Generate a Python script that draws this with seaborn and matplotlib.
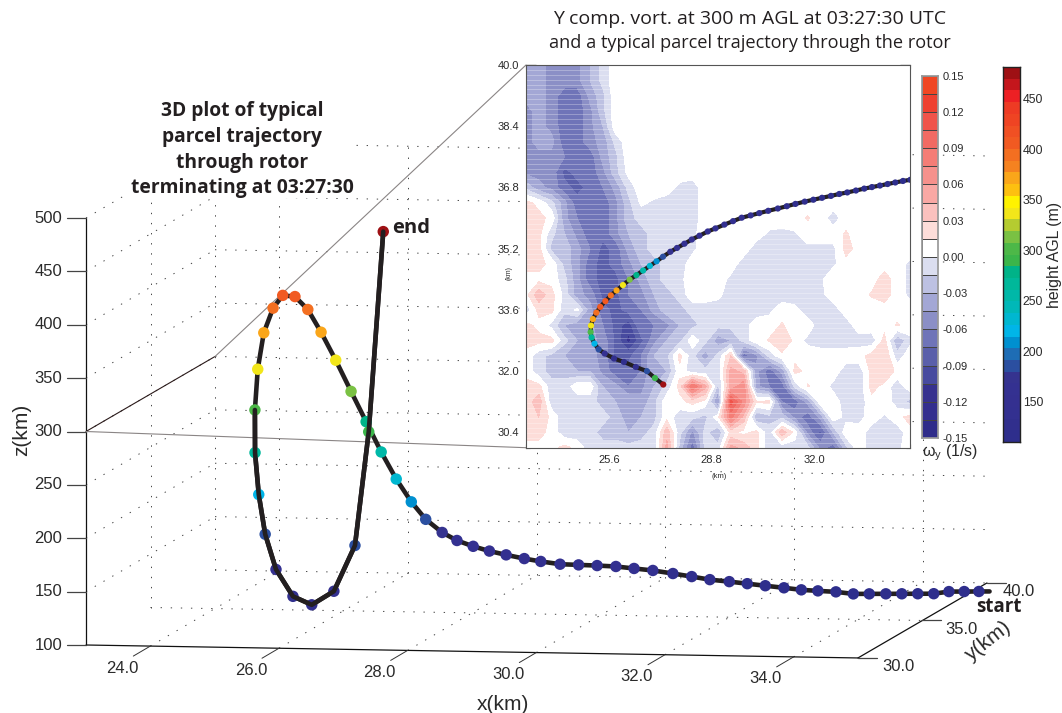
import matplotlib

matplotlib.use("Agg")
import matplotlib.pyplot as plt
import numpy as np
import pandas as pd
import seaborn as sns
from matplotlib.colors import BoundaryNorm, ListedColormap
from matplotlib.patches import Rectangle
from matplotlib.ticker import FixedLocator, MultipleLocator

# parcel trajectory, start to end
traj_x = [35.46, 35.24, 35.01, 34.78, 34.54, 34.30, 34.06, 33.81, 33.57, 33.31,
          33.04, 32.79, 32.53, 32.25, 31.98, 31.71, 31.42, 31.15, 30.87, 30.57,
          30.29, 30.02, 29.74, 29.47, 29.20, 28.92, 28.68, 28.42, 28.18, 27.95,
          27.72, 27.51, 27.28, 27.08, 26.87, 26.66, 26.45, 26.24, 26.03, 25.83,
          25.65, 25.48, 25.32, 25.20, 25.09, 25.03, 25.02, 25.05, 25.14, 25.27,
          25.46, 25.75, 26.06, 26.43, 26.78, 27.03, 27.29]
traj_y = [37.08, 37.04, 37.00, 36.97, 36.93, 36.89, 36.85, 36.81, 36.77, 36.72,
          36.67, 36.63, 36.58, 36.53, 36.48, 36.43, 36.37, 36.31, 36.25, 36.19,
          36.13, 36.07, 36.01, 35.92, 35.83, 35.73, 35.65, 35.54, 35.44, 35.33,
          35.22, 35.12, 34.99, 34.87, 34.75, 34.63, 34.51, 34.39, 34.25, 34.11,
          33.98, 33.83, 33.68, 33.53, 33.36, 33.19, 33.02, 32.88, 32.72, 32.57,
          32.46, 32.33, 32.24, 32.11, 32.00, 31.82, 31.65]
traj_z = [113, 113, 113, 111, 111, 111, 111, 111, 111, 113,
          114, 115, 117, 119, 121, 123, 125, 128, 131, 134,
          136, 138, 139, 140, 141, 144, 147, 151, 155, 160,
          166, 174, 187, 204, 226, 252, 281, 310, 340, 367,
          389, 402, 404, 393, 371, 338, 301, 262, 224, 188,
          156, 132, 125, 139, 183, 291, 480]
lead_x, lead_y, lead_z = 35.62, 37.11, 113

# y-vorticity at 300 m, in 0.01 1/s; rows from y=40 km down to y=30 km, columns x=23..35 km
vort = np.array([
    [-4, -4, -5, -5, -5, -3, -1] + [1] * 24,
    [-4, -4, -5, -5, -5, -3, -1] + [1] * 24,
    [-4, -4, -5, -7, -7, -4, -2] + [1] * 24,
    [-5, -4, -5, -7, -7, -5, -2] + [1] * 24,
    [-5, -4, -5, -7, -7, -5, -3] + [1] * 24,
    [-5, -4, -4, -7, -7, -5, -4, -1] + [1] * 23,
    [-5, -5, -5, -6, -7, -7, -4, -2] + [1] * 23,
    [-5, -5, -5, -8, -7, -7, -5, -2, 0.5] + [1] * 22,
    [-2, -4, -5, -7, -8, -7, -6, -4, -1, 1, 1, 1, -0.5, -1, 1] + [1] * 16,
    [2, 1, -1, -4, -7, -7, -7, -5, -2, 0.3, -0.3, -1, -1, -1, 1] + [1] * 16,
    [2, 2, 1, -4, -6, -7, -7, -5, -2, -1, -1, -1, -1, -1, 1] + [1] * 7 + [1.6, 1, -1] + [1] * 6,
    [2, 2, -1, -3, -5, -7, -7, -5, -3, -2, -1, -1, -1, -0.5, 1] + [1] * 4 + [-0.3, -0.5, -0.2, 1, 1, 1, 1.6] + [1] * 5,
    [2, 2, -2, -2, -4, -6, -8, -7, -4, -2, -1, -1, -1, -0.5, 1, 1, 1, 1, -1, -1, -1, -1, -0.5, -0.5, -0.5, 2] + [1] * 5,
    [2, 2, 1, -2, -4, -7, -8, -7, -5, -3, -2, -1, -1, 1, 1, 1, 1, -1, -1, -1, -1, -1, -1, -1, -0.3, 1, 1, 1, 1, 1, -0.5],
    [1, 1, 1, -1, -4, -7, -8, -8, -6, -4, -2, -1, -0.5, 1, 1, 1, -0.5, -1, -1, -1, -1, -1, -1, -0.3, 1, 1, 1, 1, 2, 1, -0.5],
    [1, 4, 2, -0.5, -4, -5, -8, -8, -6, -5, -3, -2, -1, 1, 1, 0.5, -1, -1, -1, -1, -1, -1, -1, -0.5, 1, 1, 1, 1.6, 2, 1, -0.5],
    [-1, 2, 2, -1, 0.3, -4, -7, -8, -7, -6, -4, -2, -2, -1, -1, -1, -1, -1, -1, -0.5, 1, 0.5, -1, -1, -1, 1, 1, 1, 1, 1, 1],
    [2, 1, -0.5, -3, -4, -4, -6, -8, -10, -6, -6, -5, -3, -2, -1, -1, -1, -0.8, 1, 1, 1.6, 1, 1, -1, -1, -1, 1, 1, 1, 1.6, 1],
    [2, 2, 2, -1, -3, -4, -5, -8, -11, -8, -5, -3, -2, 1, -1, -4, -3, -1, 1, 1.6, 3, 1, -0.5, -1, -1, -1, -0.8, -1, 2, -3, -0.5],
    [1, -1, -2, -3, -4, -4, -5, -8, -8, -6, -3, -2, 2, -1, -4, -1, 3, -7, -5, -1, 1, 1, 1, 1, 1, 1, 1, 2, 3, -1, 1],
    [1, -1, -2, -2, -3, -3, -5, -7, -7, -6, -3, -3, 1, -1, -1, -1, 5, 4, -4, -7, -4, 2, 1, 1, 1, -1, -1, 2, 3, 1, 1],
    [2, 2, -1, -1, 1, 1, -3, -4, -6, -5, -3, -1, 2, 9, 5, -2, 5, 7, -4, -6, -7, -1, 1.6, 1, -0.5, -1, -1, 2, 1, -1, 1],
    [2, 4, -1, -1, -1, -1, -2, -3, -3, -4, -2, 1, 1, 2, 1, -5, 11, 7, 1.6, 2, -6, -7, -4, 1, 1, -1, -1, 1, 1, -0.8, -2],
    [2, 3, 1, -1, -1, -1, -1, -2, -4, -3, -2, 1, -1, -1, -2, 1, 8, 4, -3, -2, -2, -5, -7, -4, 1, -0.5, -0.8, 1, -0.3, 1, 2],
    [2, 2, 1, -1, -1, -1, -2, -2, -3, -2, -1, 4, -1, -5, -1, -3, 2, 1, 2, -1, 4, 1, -5, -8, -3, 1, 1, -1, -1, -1, 1],
    [1, 1, 1, 2, 1, -1, -1, -1, -1, -1, -1, 5, -2, -7, -1, -1, 5, 4, 2, -1, -1, -1, -1, -5, -7, -2, 1, -1, -1, -0.5, 1],
])
vort_x = np.linspace(23, 35, vort.shape[1])
vort_y = np.linspace(40, 30, vort.shape[0])

vort_colors = ["#2F2C8A", "#332E8E", "#36318F", "#474A9F", "#5A5FAA", "#6F74B8", "#8B8FC6",
               "#A3A7D5", "#BDC1E2", "#DBDEF0", "#FFFFFF", "#FDDDD9", "#FBC1BE", "#F9A8A4",
               "#F6918C", "#F47D76", "#F16A63", "#F0534A", "#EE4030", "#F04623"]
vort_levels = np.arange(-15, 15.1, 1.5) * 0.01
vort_ticks = ["0.15", "0.12", "0.09", "0.06", "0.03", "0.00", "-0.03", "-0.06", "-0.09", "-0.12", "-0.15"]

height_colors = ["#2E2E8C", "#312F8D", "#333090", "#343090", "#343191", "#35338F",
                 "#2B4FA0", "#1E6DB5", "#0090D0", "#00B5E8", "#00B7D0", "#00B8B8",
                 "#00B8A8", "#00B89A", "#00B388", "#3BB54A", "#4DB848", "#7AC143",
                 "#B5CC30", "#F2E61A", "#FFF200", "#FDC010", "#FAA61A", "#F58220",
                 "#F36F21", "#F15A22", "#F05023", "#EF4423", "#EE3B24", "#ED2024",
                 "#C4161C", "#9E1014"]
height_edges = 110 + 11.6 * np.arange(len(height_colors) + 1)
height_ticks = [150, 200, 250, 300, 350, 400, 450]

x_ticks = [24.0, 26.0, 28.0, 30.0, 32.0, 34.0]
y_ticks = [30.0, 35.0, 40.0]
z_ticks = [100, 150, 200, 250, 300, 350, 400, 450, 500]
inset_x_ticks = [25.6, 28.8, 32.0]
inset_y_ticks = [30.4, 32.0, 33.6, 35.2, 36.8, 38.4, 40.0]

W, H = 1062, 713
INSET = (526, 910, 65, 447.7)  # left, right, top, bottom in pixels
DOT = (0, (1.4, 9))
INK = "#231F20"
LABEL = "#2a2a2a"


def project(x, y, z):
    """Oblique view of the 3D box, result in figure pixels"""
    x, y, z = np.asarray(x, float), np.asarray(y, float), np.asarray(z, float)
    px = 86 + 64.33 * (x - 23) + 12.9 * (y - 30)
    py = 645 + 1.08 * (x - 23) - 7.5 * (y - 30) - 1.0675 * (z - 100)
    return px, py


def add_axes_px(left, right, top, bottom):
    return fig.add_axes([left / W, 1 - bottom / H, (right - left) / W, (bottom - top) / H])


def line3d(ax, p0, p1, **kw):
    px, py = project(*zip(p0, p1))
    ax.plot(px, py, **kw)


sns.set_theme(style="white")
plt.rcParams["font.family"] = ["Liberation Sans", "DejaVu Sans"]
plt.rcParams["mathtext.default"] = "regular"
plt.rcParams["mathtext.fontset"] = "dejavusans"

fig = plt.figure(figsize=(W / 100, H / 100), dpi=100)

# 3D view, drawn on a full figure axes in pixel units
ax3d = fig.add_axes([0, 0, 1, 1])
ax3d.set_axis_off()
grid_kw = dict(color="#444444", lw=0.7, ls=DOT, zorder=1)
for x in x_ticks:
    line3d(ax3d, (x, 30, 100), (x, 40, 100), **grid_kw)
    line3d(ax3d, (x, 40, 100), (x, 40, 500), **grid_kw)
for y in y_ticks[1:]:
    line3d(ax3d, (23, y, 100), (23, y, 500), **grid_kw)
    line3d(ax3d, (23, y, 100), (35, y, 100), **grid_kw)
for z in z_ticks[1:]:
    line3d(ax3d, (23, 30, z), (23, 40, z), **grid_kw)
    line3d(ax3d, (23, 40, z), (35, 40, z), **grid_kw)
# white block behind the left title knocks the grid out
ax3d.add_patch(Rectangle((123, 95), 232, 103, facecolor="white", edgecolor="none", zorder=1.5))

# box edges
edge_kw = dict(color="#111111", lw=0.9, zorder=2)
line3d(ax3d, (23, 30, 100), (23, 30, 500), **edge_kw)
line3d(ax3d, (23, 30, 100), (35, 30, 100), **edge_kw)
line3d(ax3d, (35, 30, 100), (35, 40, 100), **edge_kw)

for z in z_ticks:
    px, py = project(23, 30, z)
    ax3d.plot([px - 19, px], [py, py], color="#444444", lw=0.9, zorder=2)
    ax3d.text(px - 24, py, str(z), ha="right", va="center", fontsize=12, color=LABEL)
for x in x_ticks:
    px, py = project(x, 30, 100)
    ax3d.plot([px - 17, px], [py + 10, py], color="#333333", lw=0.7, zorder=2)
    ax3d.text(px - 28, py + 22, f"{x:.1f}", ha="center", va="center", fontsize=12, color=LABEL)
for y, dx in zip(y_ticks, [40, 39, 32]):
    px, py = project(35, y, 100)
    ax3d.plot([px, px + 19], [py, py], color="#444444", lw=0.9, zorder=2)
    ax3d.text(px + dx, py + 9, f"{y:.1f}", ha="center", va="center", fontsize=12, color=LABEL)

# the z=300 m plane tied to the inset corners
c0x, c0y = project(23, 30, 300)
c1x, c1y = project(23, 40, 300)
ax3d.plot([c0x, c1x], [c0y, c1y], color="#2a1a1a", lw=0.8, zorder=2)
ax3d.plot([c1x, INSET[0]], [c1y, INSET[2]], color="#8a8585", lw=0.8, zorder=2)
ax3d.plot([c0x, INSET[0]], [c0y, INSET[3]], color="#8a8585", lw=0.8, zorder=2)

traj = pd.DataFrame({"x": traj_x, "y": traj_y, "z": traj_z})
traj["px"], traj["py"] = project(traj["x"], traj["y"], traj["z"])
height_cmap = ListedColormap(height_colors)
height_norm = BoundaryNorm(height_edges, len(height_colors), clip=True)

lead_px, lead_py = project(lead_x, lead_y, lead_z)
sns.lineplot(x=[float(lead_px)] + list(traj["px"]), y=[float(lead_py)] + list(traj["py"]),
             sort=False, estimator=None, color=INK, lw=3.3, ax=ax3d, zorder=3)
sns.scatterplot(data=traj, x="px", y="py", hue="z", palette=height_cmap, hue_norm=height_norm,
                s=68, linewidth=0, legend=False, ax=ax3d, zorder=4)
# last part of the path passes in front of its dots
sns.lineplot(data=traj.iloc[-11:], x="px", y="py", sort=False, estimator=None,
             color=INK, lw=3.3, ax=ax3d, zorder=5)

ax3d.set_xlim(0, W)
ax3d.set_ylim(H, 0)
ax3d.set_xlabel("")
ax3d.set_ylabel("")

ax3d.text(22, 430, "z(km)", rotation=90, ha="center", va="center", fontsize=15, color=LABEL)
ax3d.text(503, 704, "x(km)", ha="center", va="center", fontsize=15, color=LABEL)
ax3d.text(988, 641, "y(km)", rotation=38, ha="center", va="center", fontsize=15, color=LABEL)
ax3d.text(392, 228, "end", fontsize=14.5, fontweight="bold", family="Open Sans", va="center", color=INK)
ax3d.text(976, 607, "start", fontsize=13.5, fontweight="bold", family="Open Sans", va="center", color=INK)
for line, py in zip(["3D plot of typical", "parcel trajectory", "through rotor", "terminating at 03:27:30"],
                    [111, 137, 163, 188]):
    ax3d.text(242, py, line, ha="center", va="center", fontsize=13.9, fontweight="bold",
              family="Open Sans", color=INK, zorder=6)
ax3d.text(750, 19, "Y comp. vort. at 300 m AGL at 03:27:30 UTC", ha="center", va="center",
          fontsize=14, family="Open Sans", color=INK)
ax3d.text(750, 43, "and a typical parcel trajectory through the rotor", ha="center", va="center",
          fontsize=13.1, family="Open Sans", color=INK)
ax3d.text(922, 453, r"$\omega_y$ (1/s)", fontsize=11.5, va="center", color=LABEL)
ax3d.text(509, 273, "(km)", rotation=90, fontsize=5, ha="center", va="center", color=LABEL)
ax3d.text(719, 477, "(km)", fontsize=5.5, ha="center", va="center", color=LABEL)

# map inset
ax = add_axes_px(*INSET)
ax.set_zorder(2)
ax.contourf(vort_x, vort_y, vort * 0.01, levels=vort_levels, colors=vort_colors)
ax.hlines(np.arange(30, 40, 0.13), 23, 35, color="white", lw=0.5, alpha=0.4, zorder=2)
sns.lineplot(data=traj, x="x", y="y", sort=False, estimator=None, color=INK, lw=3, ax=ax, zorder=3)
sns.scatterplot(data=traj, x="x", y="y", hue="z", palette=height_cmap, hue_norm=height_norm,
                s=20, linewidth=0, legend=False, ax=ax, zorder=4)
ax.set_xlim(23, 35)
ax.set_ylim(30, 40)
ax.set_xlabel("")
ax.set_ylabel("")
ax.xaxis.set_major_locator(FixedLocator(inset_x_ticks))
ax.yaxis.set_major_locator(FixedLocator(inset_y_ticks))
ax.set_xticklabels([f"{v:.1f}" for v in inset_x_ticks])
ax.set_yticklabels([f"{v:.1f}" for v in inset_y_ticks])
ax.xaxis.set_minor_locator(MultipleLocator(0.1))
ax.yaxis.set_minor_locator(MultipleLocator(0.1))
ax.tick_params(which="major", direction="in", top=True, right=True, bottom=True, left=True,
               length=7, width=0.9, color="#111111", labelsize=8, labelcolor=LABEL, pad=5)
ax.tick_params(which="minor", direction="in", top=True, right=True, bottom=True, left=True,
               length=3.2, width=0.8, color="#333333")
for spine in ax.spines.values():
    spine.set_color("#555555")
    spine.set_linewidth(0.8)

# vorticity colour bar
vbar = add_axes_px(922, 938, 75.7, 438)
vbar.set_zorder(2)
v_mids = (vort_levels[:-1] + vort_levels[1:]) / 2
sns.heatmap(v_mids[::-1].reshape(-1, 1), cmap=ListedColormap(vort_colors), vmin=-0.15, vmax=0.15,
            cbar=False, linewidths=0.7, linecolor="#444444", xticklabels=False, yticklabels=False, ax=vbar)
vbar.set_yticks(np.arange(0, len(vort_colors) + 1, 2))
vbar.set_yticklabels(vort_ticks, rotation=0)
vbar.tick_params(axis="y", left=False, right=True, labelleft=False, labelright=True, length=0,
                 labelsize=8, labelcolor=LABEL, pad=3)
for spine in vbar.spines.values():
    spine.set_visible(True)
    spine.set_color("#999999")

# height colour bar
hbar = add_axes_px(1003, 1020, 67, 442)
hbar.set_zorder(2)
h_mids = (height_edges[:-1] + height_edges[1:]) / 2
sns.heatmap(h_mids[::-1].reshape(-1, 1), cmap=height_cmap, vmin=height_edges[0], vmax=height_edges[-1],
            cbar=False, xticklabels=False, yticklabels=False, ax=hbar)
hbar.set_yticks((height_edges[-1] - np.array(height_ticks)) / 11.6)
hbar.set_yticklabels(height_ticks, rotation=0)
hbar.tick_params(axis="y", which="major", left=True, right=True, labelleft=False, labelright=True,
                 direction="in", length=3, width=0.8, color="#111111", labelsize=8.8, labelcolor=LABEL, pad=2)
for spine in hbar.spines.values():
    spine.set_visible(True)
    spine.set_color("#222222")
    spine.set_linewidth(1)
ax3d.text(1054, 255, "height AGL (m)", rotation=90, ha="center", va="center", fontsize=11.4, color=LABEL)

fig.savefig("out.png", dpi=100)
plt.close(fig)
